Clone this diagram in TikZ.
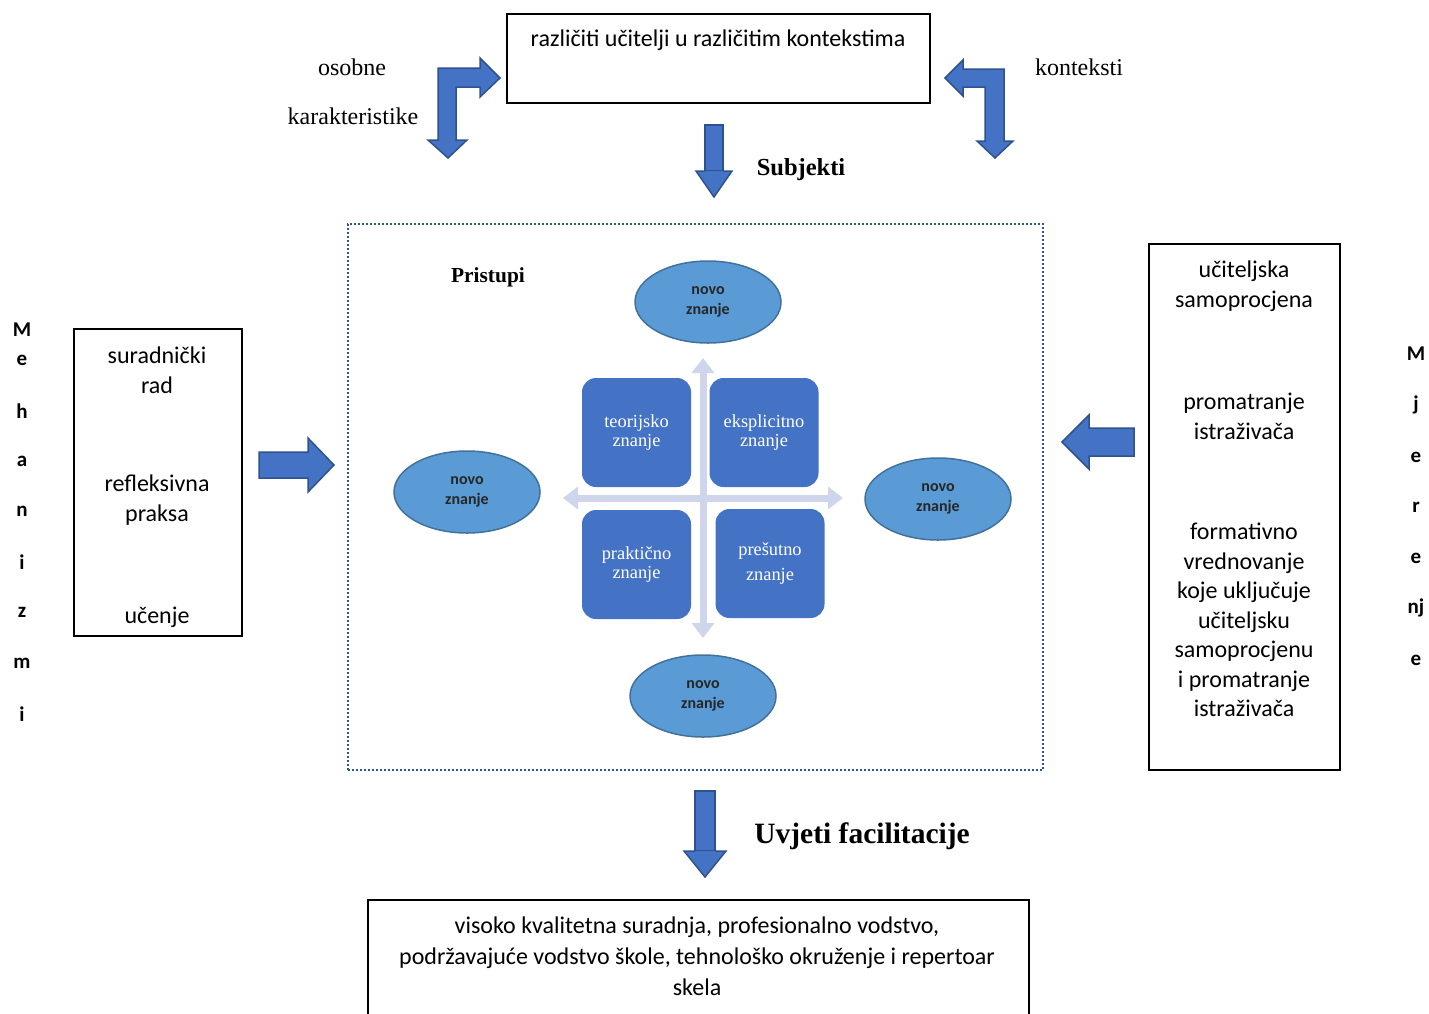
\documentclass[tikz,border=0pt]{standalone}
\usepackage{fontspec}
\setmainfont{Liberation Serif}
\newfontfamily\calibri{Carlito}
\usetikzlibrary{shapes.geometric,arrows.meta}
\definecolor{blockblue}{HTML}{4472C4}
\definecolor{blockedge}{HTML}{2F528F}
\definecolor{ellfill}{HTML}{5B9BD5}
\definecolor{elledge}{HTML}{41719C}
\definecolor{crossline}{HTML}{CFD5EA}
\definecolor{dotline}{HTML}{2F5597}
\begin{document}
\begin{tikzpicture}[x=1pt,y=-1pt,
    plainbox/.style={draw, line width=1.6pt, inner sep=0pt},
    sanstxt/.style={font=\calibri\fontsize{24}{29.5}\selectfont, align=center, inner sep=0pt},
    sertxt/.style={font=\fontsize{24}{26}\selectfont, inner sep=0pt},
    blockarrow/.style={fill=blockblue, draw=blockedge, line width=1.5pt, line join=miter},
    knowbox/.style={fill=blockblue, rounded corners=14pt, minimum width=109, minimum height=109,
        text=white, align=center, font=\fontsize{18.4}{19}\selectfont, inner sep=0pt},
    newknow/.style={ellipse, fill=ellfill, draw=elledge, line width=1.5pt, minimum width=146,
        minimum height=82, inner sep=0pt, align=center, text=black!85,
        font=\calibri\bfseries\fontsize{16}{20}\selectfont},
    vletter/.style={font=\calibri\bfseries\fontsize{21}{21}\selectfont, inner sep=0pt}]
    \useasboundingbox (0,0) rectangle (1429,1013);

    % Top: subjects box and bent arrows
    \node[plainbox, minimum width=423, minimum height=89] (subj) at (718.5,58.5) {};
    \node[sanstxt] (subjtxt) at (718,40) {različiti učitelji u različitim kontekstima};
    \node[sertxt] (osobne) at (352,67) {osobne};
    \node[sertxt] (karakt) at (353,116) {karakteristike};
    \node[sertxt] (kontek) at (1079,67) {konteksti};
    \draw[blockarrow] (448,158) -- (467,140) -- (456,140) -- (456,87) -- (480,87) -- (480,97)
        -- (500,78) -- (480,58) -- (480,68) -- (438,68) -- (438,140) -- (428,140) -- cycle;
    \draw[blockarrow] (995,158) -- (1013,141) -- (1004,141) -- (1004,69) -- (963,69) -- (963,60)
        -- (945,78) -- (963,96) -- (963,87) -- (985,87) -- (985,141) -- (977,141) -- cycle;

    % Arrow down to approaches
    \draw[blockarrow] (705,125) rectangle (723,171);
    \draw[blockarrow] (705,171) -- (696,171) -- (714,197) -- (732,171) -- (723,171);
    \node[sertxt, font=\bfseries\fontsize{24.5}{26}\selectfont] (subjekti) at (801,170) {Subjekti};

    % Approaches: dotted frame
    \node[draw=dotline, dotted, line width=2pt, minimum width=695, minimum height=546, inner sep=0pt]
        (pristupi) at (695.5,497) {};
    \node[sertxt, font=\bfseries\fontsize{21.4}{22}\selectfont] (pristlbl) at (488,277) {Pristupi};

    % Cross of arrows
    \coordinate (cl) at (563,498);
    \coordinate (cr) at (843,498);
    \coordinate (ct) at (703,358);
    \coordinate (cb) at (703,638);
    \draw[crossline, line width=7pt, {Triangle[width=22pt,length=15pt]}-{Triangle[width=22pt,length=15pt]}] (cl) -- (cr);
    \draw[crossline, line width=7pt, {Triangle[width=22pt,length=15pt]}-{Triangle[width=22pt,length=15pt]}] (ct) -- (cb);

    % Kinds of knowledge
    \node[knowbox] (teor) at (636.5,432.5) {teorijsko\\znanje};
    \node[knowbox] (ekspl) at (764,432.5) {eksplicitno\\znanje};
    \node[knowbox] (prakt) at (636.5,564.5) {praktično\\znanje};
    \node[knowbox] (presut) at (770,563.5) {prešutno\\[6pt]znanje};

    % New knowledge
    \node[newknow] (novotop) at (708,302) {novo\\znanje};
    \node[newknow] (novoleft) at (467,492) {novo\\znanje};
    \node[newknow] (novoright) at (938,499) {novo\\znanje};
    \node[newknow] (novobot) at (703,696) {novo\\znanje};

    % Left: mechanisms
    \node[plainbox, minimum width=168, minimum height=307] (meh) at (158,482.5) {};
    \node[sanstxt] (suradn) at (157,370) {suradnički\\rad};
    \node[sanstxt] (reflek) at (157,500) {refleksivna\\praksa};
    \node[sanstxt] (ucenje) at (157,617) {učenje};
    \draw[blockarrow] (259,452) -- (308,452) -- (308,438) -- (334,465) -- (308,492) -- (308,478)
        -- (259,478) -- cycle;
    \foreach \ch/\yy in {M/330, e/360, h/411, a/461, n/511, i/562, z/612, m/663, i/714}
        \node[vletter] at (22,\yy) {\ch};

    % Right: measures
    \node[plainbox, minimum width=191, minimum height=526] (mjer) at (1244.5,507) {};
    \node[sanstxt] (samopr) at (1244,286) {učiteljska\\samoprocjena};
    \node[sanstxt] (promat) at (1244,416.5) {promatranje\\istraživača};
    \node[sanstxt] (format) at (1244,620) {formativno\\vrednovanje\\koje uključuje\\učiteljsku\\samoprocjenu\\i promatranje\\istraživača};
    \draw[blockarrow] (1134,428) -- (1089,428) -- (1089,415) -- (1062,442) -- (1089,469) -- (1089,456)
        -- (1134,456) -- cycle;
    \foreach \ch/\yy in {M/354, j/405, e/457, r/507, e/558, nj/608, e/660}
        \node[vletter] at (1416,\yy) {\ch};

    % Bottom: facilitation conditions
    \draw[blockarrow] (695,791) rectangle (715,851);
    \draw[blockarrow] (695,851) -- (684,851) -- (705,877) -- (726,851) -- (715,851);
    \node[sertxt, font=\bfseries\fontsize{29.5}{30}\selectfont] (uvjeti) at (862,836) {Uvjeti facilitacije};
    \node[plainbox, minimum width=661, minimum height=120, anchor=north west] (uvj) at (367,899) {};
    \node[sanstxt, font=\calibri\fontsize{24}{31}\selectfont] (uvjtxt) at (697,956)
        {visoko kvalitetna suradnja, profesionalno vodstvo,\\podržavajuće vodstvo škole, tehnološko okruženje i repertoar\\skela};
\end{tikzpicture}
\end{document}
